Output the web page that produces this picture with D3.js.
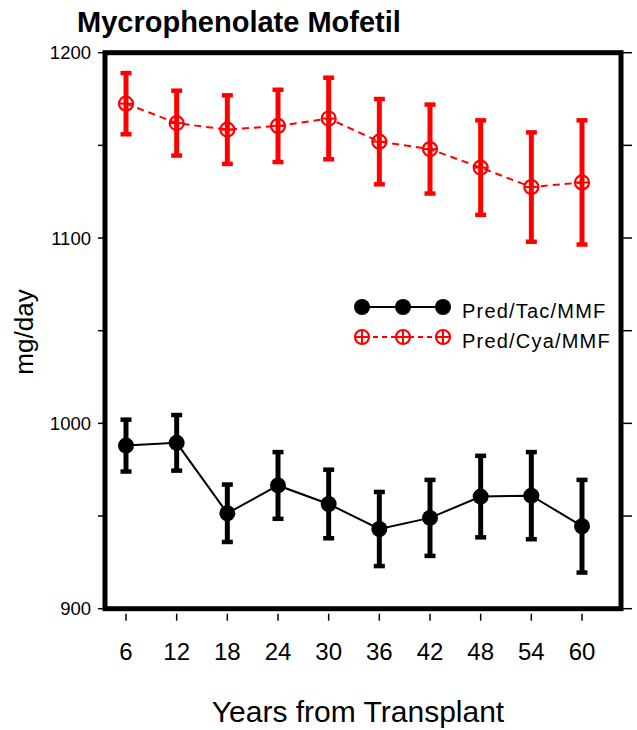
<!DOCTYPE html>
<html>
<head>
<meta charset="utf-8">
<script src="https://cdn.jsdelivr.net/npm/d3@7"></script>
<style>
  html, body { margin: 0; padding: 0; background: #fff; }
  svg { display: block; font-family: "Liberation Sans", Arial, sans-serif; }
</style>
</head>
<body>
<svg id="chart" width="637" height="730"></svg>
<script>
// ---- data ----
const months = [6, 12, 18, 24, 30, 36, 42, 48, 54, 60];
const tacMean = [988, 989.5, 951.5, 966.5, 956.5, 943, 949, 960.5, 961, 944.5];
const tacErr  = [14, 15, 15.5, 18, 18.5, 20, 20.5, 22, 23.5, 25];
const cyaMean = [1172.5, 1162, 1158.5, 1160.5, 1164.5, 1152, 1148, 1138, 1127.5, 1130];
const cyaErr  = [16.5, 17.5, 18.5, 19.5, 22, 23, 24, 25.5, 29.5, 33.5];
const yTicksMajor = [900, 1000, 1100, 1200];
const yTicksMinor = [950, 1050, 1150];
const seriesNames = ["Pred/Tac/MMF", "Pred/Cya/MMF"];

const svg = d3.select("#chart");

// layout
const frame = { left: 105, right: 621, top: 52.7, bottom: 608.7 };
const x = d3.scaleLinear().domain([6, 60]).range([126, 582]);
const y = d3.scaleLinear().domain([900, 1200]).range([frame.bottom, frame.top]);

// title
svg.append("text")
  .attr("x", 77).attr("y", 32)
  .attr("font-size", 29).attr("font-weight", "bold")
  .text("Mycrophenolate Mofetil");

// left axis ticks
const allY = yTicksMajor.concat(yTicksMinor);
svg.selectAll(".lt").data(allY).enter().append("line")
  .attr("x1", frame.left - 7).attr("x2", frame.left)
  .attr("y1", d => y(d)).attr("y2", d => y(d))
  .attr("stroke", "#000").attr("stroke-width", 1.5);
svg.selectAll(".ltl").data(yTicksMajor).enter().append("text")
  .attr("x", 91).attr("y", d => y(d)).attr("dy", "0.35em")
  .attr("text-anchor", "end").attr("font-size", 18.5)
  .text(d => d);

// right axis ticks
svg.selectAll(".rt").data(allY).enter().append("line")
  .attr("x1", frame.right).attr("x2", frame.right + 11)
  .attr("y1", d => y(d)).attr("y2", d => y(d))
  .attr("stroke", "#000").attr("stroke-width", 1.5);

// x axis ticks
svg.selectAll(".xt").data(months).enter().append("line")
  .attr("x1", d => x(d)).attr("x2", d => x(d))
  .attr("y1", frame.bottom + 5).attr("y2", frame.bottom + 12)
  .attr("stroke", "#000").attr("stroke-width", 1.5);
svg.selectAll(".xtl").data(months).enter().append("text")
  .attr("x", d => x(d)).attr("y", 660)
  .attr("text-anchor", "middle").attr("font-size", 24)
  .text(d => d);

// axis titles
svg.append("text")
  .attr("x", 358).attr("y", 722)
  .attr("text-anchor", "middle").attr("font-size", 30)
  .text("Years from Transplant");
svg.append("text")
  .attr("transform", "translate(33,332) rotate(-90)")
  .attr("text-anchor", "middle").attr("font-size", 26)
  .text("mg/day");

// frame
svg.append("rect")
  .attr("x", frame.left).attr("y", frame.top)
  .attr("width", frame.right - frame.left).attr("height", frame.bottom - frame.top)
  .attr("fill", "none").attr("stroke", "#000").attr("stroke-width", 5);

// series
const series = [
  { name: seriesNames[0], mean: tacMean, err: tacErr, color: "#000", dash: null, filled: true },
  { name: seriesNames[1], mean: cyaMean, err: cyaErr, color: "#ff0000", dash: "7,5", filled: false }
];

function drawMarker(g, cx, cy, s) {
  if (s.filled) {
    g.append("circle").attr("cx", cx).attr("cy", cy).attr("r", 8).attr("fill", s.color);
  } else {
    g.append("circle").attr("cx", cx).attr("cy", cy).attr("r", 7)
      .attr("fill", "none").attr("stroke", s.color).attr("stroke-width", 2.2);
    g.append("line").attr("x1", cx - 7).attr("x2", cx + 7).attr("y1", cy).attr("y2", cy)
      .attr("stroke", s.color).attr("stroke-width", 2);
    g.append("line").attr("x1", cx).attr("x2", cx).attr("y1", cy - 7).attr("y2", cy + 7)
      .attr("stroke", s.color).attr("stroke-width", 2);
  }
}

series.forEach(s => {
  const pts = months.map((m, i) => ({ m, v: s.mean[i], e: s.err[i] }));
  const g = svg.append("g");
  g.append("path")
    .datum(pts)
    .attr("d", d3.line().x(d => x(d.m)).y(d => y(d.v)))
    .attr("fill", "none").attr("stroke", s.color).attr("stroke-width", 2)
    .attr("stroke-dasharray", s.dash);
  pts.forEach(p => {
    g.append("line")
      .attr("x1", x(p.m)).attr("x2", x(p.m))
      .attr("y1", y(p.v + p.e)).attr("y2", y(p.v - p.e))
      .attr("stroke", s.color).attr("stroke-width", 5);
    [p.v + p.e, p.v - p.e].forEach(v => {
      g.append("line")
        .attr("x1", x(p.m) - 5.5).attr("x2", x(p.m) + 5.5)
        .attr("y1", y(v)).attr("y2", y(v))
        .attr("stroke", s.color).attr("stroke-width", 4.5);
    });
  });
  pts.forEach(p => drawMarker(g, x(p.m), y(p.v), s));
});

// legend
const legY = [307, 337];
series.forEach((s, i) => {
  const g = svg.append("g");
  g.append("line").attr("x1", 355).attr("x2", 450).attr("y1", legY[i]).attr("y2", legY[i])
    .attr("stroke", s.color).attr("stroke-width", 2).attr("stroke-dasharray", s.dash ? "5,4" : null);
  [362, 403, 443].forEach(cx => drawMarker(g, cx, legY[i], s));
  g.append("text").attr("x", 462).attr("y", legY[i] + 11)
    .attr("font-size", 20).attr("letter-spacing", 1.2)
    .text(s.name);
});
</script>
</body>
</html>
